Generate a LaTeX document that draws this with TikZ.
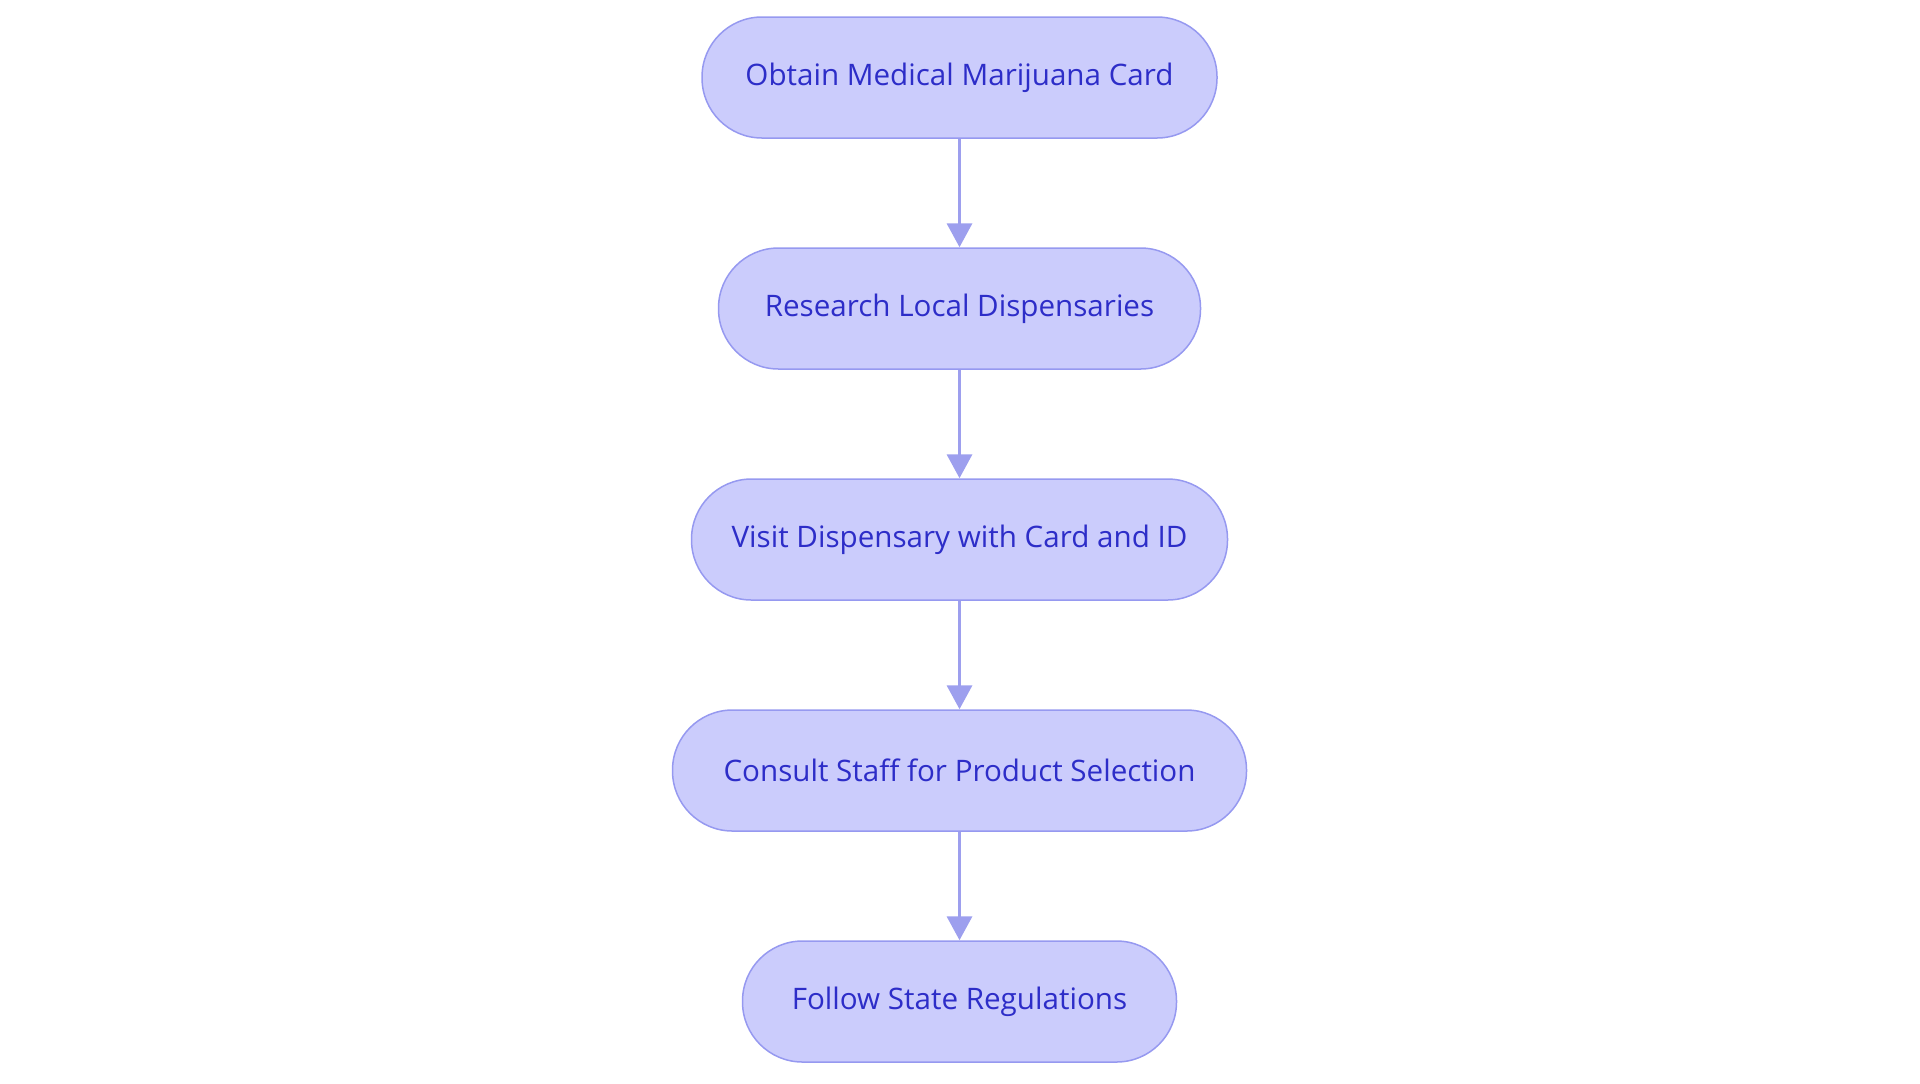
\documentclass[tikz,border=0pt]{standalone}
\usepackage{fontspec}
\setmainfont{Open Sans}
\usepackage{xcolor}
\usetikzlibrary{arrows.meta}

\definecolor{stepfill}{RGB}{203,204,252}
\definecolor{stepline}{RGB}{150,153,240}
\definecolor{steptext}{RGB}{45,45,200}
\definecolor{arrowline}{RGB}{157,159,238}

\begin{document}
\begin{tikzpicture}[x=0.5pt, y=-0.5pt, node distance = 115.5pt,
    stepbox/.style = {draw=stepline, fill=stepfill, text=steptext, line width=0.75pt,
                      rounded corners=30pt, minimum height=60.5pt,
                      font=\fontsize{14.8}{17}\selectfont},
    flow/.style = {draw=arrowline, line width=1.8pt, -{Triangle[length=12pt, width=12.5pt]}}]
                        \useasboundingbox (0, 0) rectangle (1920, 1083);

                        \node (card) at (959.5, 77.5) [stepbox, minimum width=257.5pt] {Obtain Medical Marijuana Card};
                        \node (research) [stepbox, minimum width=241pt, below of = card] {Research Local Dispensaries};
                        \node (visit) [stepbox, minimum width=268pt, below of = research] {Visit Dispensary with Card and ID};
                        \node (consult) [stepbox, minimum width=287pt, below of = visit] {Consult Staff for Product Selection};
                        \node (follow) [stepbox, minimum width=217pt, below of = consult] {Follow State Regulations};

                        \draw[flow] (card) -- (research);
                        \draw[flow] (research) -- (visit);
                        \draw[flow] (visit) -- (consult);
                        \draw[flow] (consult) -- (follow);
                    \end{tikzpicture}
\end{document}
